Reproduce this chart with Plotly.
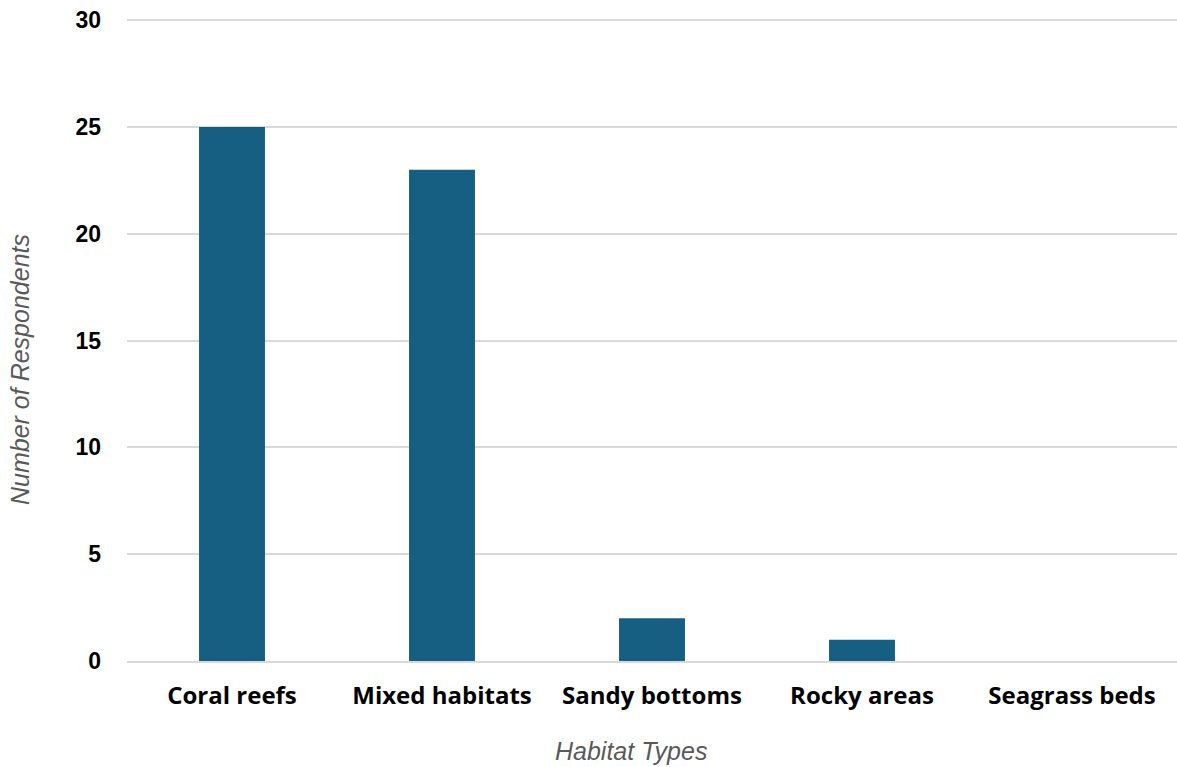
import plotly.graph_objects as go

habitats = ["Coral reefs", "Mixed habitats", "Sandy bottoms", "Rocky areas", "Seagrass beds"]
respondents = [25, 23, 2, 1, 0]

W, H = 1177, 767
L, R, T, B = 127, 0, 18, 106
pw, ph = W - L - R, H - T - B

fig = go.Figure(
    go.Bar(
        x=habitats,
        y=respondents,
        marker=dict(color="#175F82", line=dict(width=0)),
    )
)

fig.update_layout(
    width=W,
    height=H,
    margin=dict(l=L, r=R, t=T, b=B),
    paper_bgcolor="white",
    plot_bgcolor="white",
    bargap=0.686,
    showlegend=False,
    xaxis=dict(
        showgrid=False,
        showline=True,
        linecolor="#d9d9d9",
        linewidth=2,
        ticks="",
        ticklabelstandoff=12,
        tickfont=dict(family="Open Sans", size=24, color="black", weight="bold"),
    ),
    yaxis=dict(
        range=[0, 30.1],
        dtick=5,
        showgrid=True,
        gridcolor="#d9d9d9",
        gridwidth=1.5,
        zeroline=False,
        showline=False,
        ticks="",
        ticklabelstandoff=25,
        tickfont=dict(family="Liberation Sans", size=23, color="black", weight="bold"),
    ),
    annotations=[
        dict(
            text="<i>Habitat Types</i>",
            xref="paper", yref="paper",
            x=(631 - L) / pw, y=(H - B - 751) / ph,
            xanchor="center", yanchor="middle",
            showarrow=False,
            font=dict(family="Liberation Sans", size=25, color="#595959"),
        ),
        dict(
            text="<i>Number of Respondents</i>",
            xref="paper", yref="paper",
            x=(20 - L) / pw, y=(H - B - 370) / ph,
            xanchor="center", yanchor="middle",
            textangle=-90,
            showarrow=False,
            font=dict(family="Liberation Sans", size=25, color="#595959"),
        ),
    ],
)

fig.write_html("out.html")
